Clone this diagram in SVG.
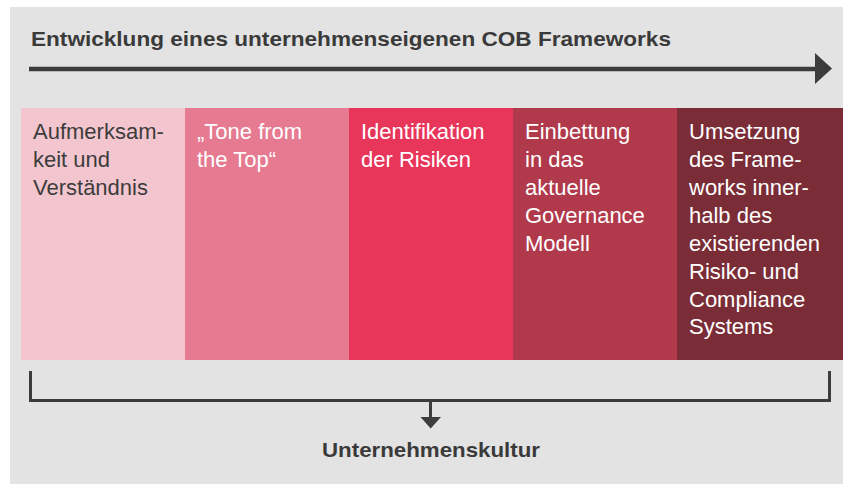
<svg xmlns="http://www.w3.org/2000/svg" width="843" height="484" viewBox="0 0 843 484">
<style>
.t{font-family:"Liberation Sans",Arial,sans-serif;font-size:22px;}
.b{font-family:"Liberation Sans",Arial,sans-serif;font-size:21px;font-weight:bold;fill:#3a3a3a;}
.w{fill:#ffffff;}
.d{fill:#3c3c3c;}
.ln{stroke:#3c3c3c;fill:none;}
</style>
<rect x="0" y="0" width="843" height="484" fill="#ffffff"/>
<rect x="10" y="7" width="833" height="477" fill="#e3e3e3"/>
<text class="b" x="31" y="45.5" textLength="640" lengthAdjust="spacingAndGlyphs">Entwicklung eines unternehmenseigenen COB Frameworks</text>
<g id="connectors">
<line class="ln" x1="29" y1="69" x2="817" y2="69" stroke-width="4.5"/>
<polygon points="815,53 832,68.5 815,84" fill="#3c3c3c"/>
<polyline class="ln" points="30.5,371 30.5,400.5 829.5,400.5 829.5,371" stroke-width="3"/>
<line class="ln" x1="430.5" y1="400" x2="430.5" y2="418" stroke-width="3"/>
<polygon points="420.5,417 441,417 430.7,428.5" fill="#3c3c3c"/>
</g>
<g id="n1">
<rect x="21" y="108" width="164" height="252" fill="#f3c6cf"/>
<text class="t d" x="33"><tspan x="33" y="139">Aufmerksam-</tspan><tspan x="33" y="167">keit und</tspan><tspan x="33" y="195">Verständnis</tspan></text>
</g>
<g id="n2">
<rect x="185" y="108" width="164" height="252" fill="#e57a91"/>
<text class="t w" x="197"><tspan x="197" y="139">„Tone from</tspan><tspan x="197" y="167">the Top“</tspan></text>
</g>
<g id="n3">
<rect x="349" y="108" width="164" height="252" fill="#e8355a"/>
<text class="t w" x="361"><tspan x="361" y="139">Identifikation</tspan><tspan x="361" y="167">der Risiken</tspan></text>
</g>
<g id="n4">
<rect x="513" y="108" width="164" height="252" fill="#b0394b"/>
<text class="t w" x="525"><tspan x="525" y="139">Einbettung</tspan><tspan x="525" y="167">in das</tspan><tspan x="525" y="195">aktuelle</tspan><tspan x="525" y="223">Governance</tspan><tspan x="525" y="251">Modell</tspan></text>
</g>
<g id="n5">
<rect x="677" y="108" width="166" height="252" fill="#7a2d37"/>
<text class="t w" x="689"><tspan x="689" y="139">Umsetzung</tspan><tspan x="689" y="167">des Frame-</tspan><tspan x="689" y="195">works inner-</tspan><tspan x="689" y="223">halb des</tspan><tspan x="689" y="251">existierenden</tspan><tspan x="689" y="279">Risiko- und</tspan><tspan x="689" y="306.5">Compliance</tspan><tspan x="689" y="334">Systems</tspan></text>
</g>
<g id="n6">
<text class="b" x="431" y="457" text-anchor="middle" textLength="218" lengthAdjust="spacingAndGlyphs">Unternehmenskultur</text>
</g>
</svg>
